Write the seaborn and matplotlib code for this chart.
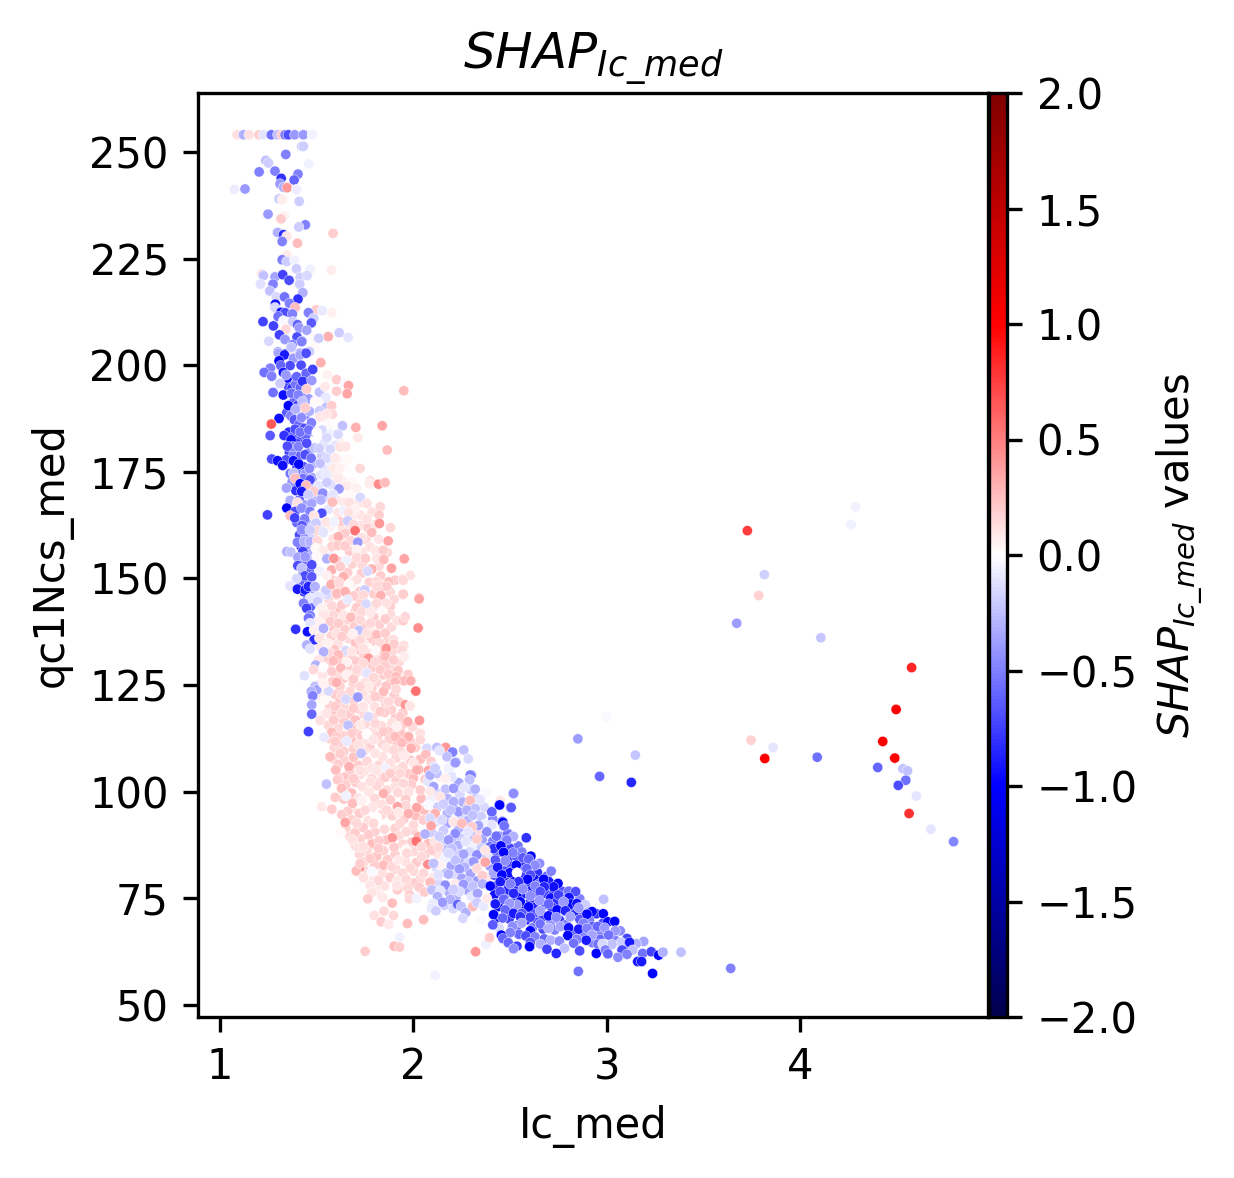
import pandas as pd
import matplotlib
matplotlib.use("Agg")
import matplotlib.pyplot as plt
import seaborn as sns

# Points: (Ic_med, qc1Ncs_med, SHAP value), grouped by region
top_cap = [(1.088,254,.12),(1.121,254,-.3),(1.150,254,.12),(1.202,254,.2),(1.224,254,-.1),(1.265,254,-.55),(1.298,254,-.25),(1.319,254,.2),(1.336,254,-.5),(1.353,254,-.7),(1.386,254,-.4),(1.431,254,-.4),(1.476,254,-.05)]

upper_band = [(1.422,251.3,-.2),(1.431,251.3,-.2),(1.340,249.4,-.5),(1.236,248.0,-.25),(1.250,247.4,-.2),(1.459,247.2,-.05),(1.202,245.3,-.5),(1.284,245.5,-.5),(1.403,244.8,-.5),(1.316,243.8,-.8),(1.383,243.4,-.6),(1.310,242.5,-.4),(1.328,241.7,-.3),(1.347,241.6,.4),(1.074,241.2,-.07),(1.129,241.3,-.4),(1.395,241.2,-.07),(1.305,239,-.2),(1.322,238.8,.07),(1.409,238.4,-.2),(1.248,235.4,-.4),(1.331,235,.05),(1.315,234.3,.2),(1.441,232.9,-.5),(1.407,232.4,-.2),(1.584,230.9,.2),(1.297,231.1,-.3),(1.328,230.6,-.8),(1.345,230.2,.1),(1.321,229,-.5),(1.400,228.6,.25),(1.345,225.8,.08),(1.321,224.7,-.5),(1.345,224.3,-.2),(1.386,224.6,-.05),(1.395,222.6,-.2),(1.465,222.5,-.05),(1.576,222.3,.07),(1.215,221.4,.12),(1.224,221,-.25),(1.284,220.7,-.35),(1.324,221.2,-.75),(1.357,219.9,-.7),(1.414,220.6,-.2),(1.450,221,-.15),(1.209,219,-.12),(1.274,219,-.5),(1.412,219,-.2),(1.257,217.4,-.25),(1.428,217,-.3),(1.291,216,-.15),(1.333,216,-.55),(1.403,215.5,-.8),(1.359,214.5,-.5),(1.286,214.3,-.95),(1.284,213.5,-.15),(1.388,213.5,.25),(1.497,213,.2),(1.528,212.8,-.08),(1.578,212.3,.06),(1.315,212.4,-.95),(1.336,212.3,-.7),(1.374,212,-.5),(1.457,212.3,-.5),(1.300,211.4,-.55),(1.484,211,-.2),(1.472,209.9,-.65),(1.222,210.2,-.75),(1.328,210.4,-.03),(1.376,210.2,-.2),(1.276,209.2,-.75),(1.400,209.5,-.6),(1.410,208.7,-.4),(1.448,208.2,-.35),(1.340,208.4,.15),(1.307,207.1,-.75),(1.398,206.6,-.7),(1.616,207.6,-.2),(1.662,206.5,-.1),(1.559,206.7,.3),(1.486,206.3,.03),(1.510,206.3,-.2),(1.252,205.6,-.15),(1.336,206,-.4),(1.424,205.6,-.6),(1.374,204.8,-.5),(1.365,204.1,-.2),(1.491,204.1,.03),(1.300,203.1,-.4),(1.336,202.6,-.95),(1.379,202.8,.1),(1.414,202.8,-.4),(1.441,202.8,-.8),(1.462,203.2,-.2)]

# dense interiors, overlapped dots estimated
blue_column_fill = [(1.352,195.1,-.7),(1.372,194.6,-.8),(1.392,195.6,-.55),(1.415,194.8,-.6),(1.436,193.2,-.45),(1.458,192.1,-.4),(1.378,191.2,-.6),(1.402,190.6,-.75),(1.345,188.9,-.65),(1.366,188.1,-.5),(1.441,188.4,-.5),(1.462,189.2,-.3),(1.384,187.2,-.65),(1.408,186.1,-.6),(1.436,185.2,-.7),(1.482,184.4,-.35),(1.356,184.3,-.85),(1.377,183.2,-.7),(1.421,182.6,-.75),(1.442,183.4,-.6),(1.392,181.7,-.8),(1.358,179.6,-.75),(1.381,179.1,-.5),(1.418,178.9,-.6),(1.456,179.4,-.5),(1.489,180.6,-.25),(1.341,177.8,-.7),(1.398,175.9,-.85),(1.431,176.2,-.7),(1.483,176.9,-.3),(1.363,174.6,-.55),(1.412,174.3,-.5),(1.441,174.5,-.4),(1.478,173.6,-.35),(1.372,172.6,-.4),(1.428,173.4,-.55),(1.392,170.6,-.8),(1.448,169.9,-.5),(1.478,170.9,-.25),(1.502,168.8,-.3),(1.410,168.4,-.6),(1.442,167.2,-.4),(1.397,163.1,-.6),(1.448,162.9,-.45),(1.478,162.2,-.25),(1.411,160.2,-.7),(1.441,159.6,-.4),(1.482,159.7,-.2),(1.418,157.6,-.85),(1.450,156.8,-.45),(1.472,155.9,-.3),(1.412,153.9,-.6),(1.452,153.8,-.55),(1.430,151.6,-.7),(1.461,151.8,-.6),(1.418,149.2,-.6),(1.462,149.4,-.55),(1.486,146.6,-.35),(1.455,145.6,-.5),(1.468,143.4,-.6)]

pale_fill = [(1.505,192.1,.03),(1.532,188.1,-.1),(1.561,186.2,.02),(1.592,186.9,.0),(1.527,184.8,-.15),(1.573,183.9,-.05),(1.618,181.9,.05),(1.537,181.6,-.1),(1.596,181.2,-.1),(1.525,178.8,-.2),(1.575,177.1,-.05),(1.610,177.6,.06),(1.640,176.2,.03),(1.542,175.5,-.1),(1.595,174.2,.08),(1.635,173.2,.05),(1.680,172.9,.02),(1.572,172.1,-.12),(1.625,170.4,.0),(1.670,169.4,.03),(1.705,171.2,.05),(1.545,169.1,-.15),(1.602,168.4,.1),(1.640,167.9,.08),(1.690,167.4,.08),(1.735,167.8,.1),(1.560,166.2,-.1),(1.610,165.4,.1),(1.640,165.9,-.05),(1.685,164.6,.08),(1.725,164.9,.1),(1.785,165.6,.12),(1.525,162.5,-.1),(1.570,162.1,.05),(1.635,161.7,.12),(1.668,162.1,.1),(1.725,162.4,.12),(1.765,161.9,.2),(1.805,162.7,.1),(1.530,159.4,.0),(1.585,159.3,.12),(1.630,158.7,.1),(1.675,158.9,.15),(1.755,159.1,.15),(1.820,159.2,.1),(1.520,156.8,-.1),(1.560,155.9,-.05),(1.668,156.4,.2),(1.735,156.2,.12),(1.775,157.4,.12),(1.865,156.1,.15),(1.515,153.6,.0),(1.610,154.1,.2),(1.682,153.4,.18),(1.735,153.1,.15),(1.822,152.9,.15),(1.515,151.6,-.05),(1.660,151.4,.2),(1.730,151.2,.2),(1.830,150.6,.2),(1.580,149.6,.2),(1.675,148.9,.22),(1.772,149.1,.18),(1.905,149.6,.2)]

pink_fill = [(1.530,146.6,.05),(1.622,147.4,.2),(1.720,146.9,.2),(1.795,146.4,.2),(1.880,146.8,.15),(1.560,145.2,.15),(1.650,144.4,.22),(1.725,144.6,.18),(1.835,144.8,.25),(1.900,145.1,.15),(1.545,143.1,.08),(1.610,142.6,.25),(1.700,142.4,.18),(1.790,143.2,.12),(1.880,143.4,.2),(1.575,140.7,.2),(1.650,140.2,.18),(1.698,141.2,.12),(1.795,140.9,.2),(1.880,141.6,.15),(1.540,139.6,.05),(1.630,138.6,.12),(1.695,138.8,.2),(1.745,138.9,.2),(1.825,139.2,.18),(1.885,138.6,.15),(1.590,137.9,.22),(1.785,137.4,.08),(1.520,137.1,.1),(1.575,136.4,.18),(1.665,135.9,.15),(1.700,134.9,.22),(1.780,135.9,.2),(1.865,135.3,.18),(1.610,134.6,.12),(1.745,134.5,.05),(1.810,134.6,.2),(1.520,133.9,.08),(1.590,133.4,.22),(1.720,133.2,.2),(1.785,132.6,.15),(1.830,132.8,.22),(1.895,133.1,.15),(1.640,132.2,.18),(1.680,131.3,.25),(1.745,131.9,.18),(1.555,130.9,.18),(1.625,130.6,.22),(1.800,131.9,.15),(1.830,130.7,.25),(1.925,130.4,.15),(1.510,129.6,.02),(1.560,129.4,.2),(1.660,129.3,.2),(1.720,129.6,.1),(1.785,129.1,.2),(1.880,128.9,.15),(1.600,127.9,.15),(1.745,128.2,.18),(1.845,127.4,.2),(1.920,128.4,.22),(1.530,127.3,.1),(1.640,126.6,.2),(1.700,127.6,.12),(1.775,126.6,.15),(1.885,126.2,.2),(1.580,125.8,.2),(1.810,125.6,.15),(1.510,125.2,.08),(1.620,124.7,.18),(1.690,125.3,.18),(1.750,125.6,.12),(1.860,124.8,.22),(1.555,123.9,.1),(1.785,124.1,.18),(1.595,122.8,.2),(1.660,122.4,.12),(1.740,122.8,.12),(1.830,122.2,.2),(1.900,122.6,.2),(1.525,122.1,.08),(1.620,121.2,.22),(1.770,121.6,.1),(1.690,121.3,.2),(1.565,120.3,.18),(1.855,120.8,.15),(1.925,121.1,.2),(1.640,119.9,.15),(1.720,119.4,.2),(1.800,119.9,.12),(1.885,119.2,.18),(1.590,118.6,.22),(1.670,118.2,.2),(1.745,118.1,.15),(1.850,118.6,.2),(1.945,118.5,.2),(1.530,117.9,.05),(1.610,117.3,.18),(1.700,116.8,.22),(1.790,117.4,.15),(1.905,117.1,.22),(1.640,116.4,.2),(1.560,115.6,.15),(1.750,115.9,.15),(1.835,115.4,.15),(1.940,115.6,.2),(1.610,114.9,.15),(1.700,114.6,.22),(1.790,114.2,.12),(1.875,114.3,.2),(1.995,115.2,.15),(1.640,113.1,.18),(1.730,113.1,.2),(1.815,112.9,.18),(1.935,113.6,.22),(1.570,112.4,.2),(1.680,112.1,.22),(1.875,112.3,.18),(1.985,111.6,.2),(1.625,111.2,.2),(1.755,111.6,.12),(1.840,111.1,.15),(1.915,111.2,.2),(1.590,110.4,.15),(1.690,110.1,.18),(1.775,110.4,.18),(1.860,110.2,.1),(2.010,110.4,.2),(1.640,109.4,.2),(1.745,109.6,.12),(1.935,109.4,.15),(1.580,107.9,.2),(1.690,108.1,.22),(1.840,108.2,.12),(1.910,107.9,.15),(2.035,107.6,.25),(1.640,107.4,.18),(1.760,107.1,.15),(1.985,107.4,.2),(1.610,106.4,.2),(1.715,106.2,.2),(1.820,106.2,.15),(1.945,105.9,.15),(1.670,104.7,.2),(1.745,104.8,.12),(1.830,104.6,.15),(1.900,105.2,.12),(1.640,103.4,.22),(1.785,103.1,.15),(1.975,104.2,.2),(2.000,103.2,.25),(1.700,102.2,.2),(1.825,102.2,.15),(1.910,102.6,.18),(2.060,102.9,.2)]

low_pink_fill = [(1.650,101.6,.2),(1.735,101.2,.12),(1.810,101.4,.15),(1.905,101.1,.12),(1.990,101.7,.2),(1.680,99.7,.25),(1.770,99.9,.1),(1.920,99.8,.15),(1.975,100,.12),(1.640,98.3,.22),(1.715,98.5,.12),(1.800,98.4,.15),(1.880,98.1,.2),(1.960,98.2,.2),(2.040,98.4,.25),(1.680,96.1,.12),(1.790,96.4,.1),(1.835,97.1,.12),(1.960,96.8,.15),(2.055,95.7,.25),(1.660,95.4,.2),(1.720,94.9,.2),(1.835,94.6,.15),(1.890,94.4,.18),(2.010,94.4,.25),(1.680,93.4,.18),(1.765,93.2,.12),(1.950,93.6,.2),(2.050,93.4,.2),(1.650,91.6,.18),(1.740,91.6,.2),(1.850,91.2,.15),(1.905,91.4,.18),(1.995,91.1,.2),(1.670,89.6,.15),(1.800,90.6,.18),(1.925,89.7,.15),(2.025,89.5,.3),(1.725,88.9,.18),(1.860,88.7,.22),(1.990,88.2,.2),(1.700,87.3,.15),(1.785,87.8,.25),(1.945,87.7,.15),(2.075,87.8,.25),(1.760,86.1,.15),(1.845,86.2,.18),(2.000,86,.15),(1.720,85.4,.15),(1.905,85.2,.2),(2.060,85.4,.2),(1.810,84.9,.22),(1.745,83.6,.15),(1.865,84.1,.2),(1.960,83.6,.12),(2.015,83.4,.2),(1.800,82.7,.2),(1.910,81.8,.15),(2.000,81.4,.15),(1.760,81.3,.15),(1.840,80.9,.12),(1.880,79.9,.2),(1.945,80.9,.15),(2.035,79.6,.15),(1.795,79.4,.1),(1.915,79.1,.1),(2.000,78.6,.2),(1.850,77.9,.12),(1.945,77.7,.1),(2.030,77.6,.2),(1.810,76.9,.08)]

lavender_fill = [(2.075,102.4,-.1),(2.140,103.4,.05),(2.235,102.1,-.35),(2.115,99.9,-.15),(2.165,100.6,-.25),(2.240,99.4,-.15),(2.295,100.6,-.2),(2.090,98.4,-.05),(2.175,98.4,-.3),(2.255,97.6,-.3),(2.320,98.6,-.2),(2.125,96.4,-.2),(2.205,96.2,-.4),(2.285,96.8,.2),(2.365,96.4,-.15),(2.175,94.9,-.3),(2.245,94.6,-.15),(2.350,94.2,-.2),(2.410,93.6,-.45),(2.115,92.9,-.1),(2.175,92.6,-.35),(2.280,93.2,-.3),(2.370,92.4,-.05),(2.235,91.4,-.3),(2.330,90.4,.15),(2.155,90.9,-.2),(2.095,90.4,-.2),(2.205,89.4,-.25),(2.250,89.1,-.2),(2.300,89.6,-.25),(2.355,88.8,-.35),(2.410,88.4,-.5),(2.110,88.4,.1),(2.150,87.8,-.15),(2.230,87.4,-.3),(2.300,87.2,-.05),(2.395,87.1,-.55),(2.170,86.4,-.25),(2.290,85.9,-.15),(2.350,86.8,-.2),(2.125,85.4,.1),(2.225,85.4,-.2),(2.375,84.9,-.25),(2.160,84.2,-.05),(2.255,84,-.3),(2.285,83.4,-.15),(2.340,83.6,.1),(2.120,82.1,-.15),(2.195,82.6,-.35),(2.265,82.3,-.3),(2.395,82.6,-.4),(2.155,81.1,-.25),(2.215,80.6,-.15),(2.295,80.8,-.35),(2.385,79.9,.1),(2.105,79.9,.1),(2.235,78.9,-.3),(2.330,79.1,-.4),(2.130,78.6,-.15),(2.280,76.9,-.35),(2.180,76.6,-.3),(2.160,73.4,-.2),(2.220,75.3,-.3),(2.300,75.4,-.1),(2.205,72.6,-.15)]

blue_fill = [(2.490,90.2,-.6),(2.445,89.6,-.4),(2.540,87.3,-.55),(2.495,86.9,-.75),(2.430,85.6,-.6),(2.560,85.9,-.5),(2.490,84.5,-.95),(2.530,84.9,-.65),(2.440,83.1,-1.0),(2.570,83.3,-.85),(2.610,83,-.7),(2.490,82.9,-.75),(2.510,81.4,-.85),(2.555,81.4,-.75),(2.640,81.1,-.8),(2.470,81.4,-.7),(2.420,80.4,-.7),(2.575,80.2,-.8),(2.625,79.5,-.95),(2.690,80.2,-.6),(2.520,79.4,-1.0),(2.475,78.9,-.85),(2.560,78.4,-.7),(2.650,78.4,-.6),(2.600,78,-.8),(2.700,78.9,-.9),(2.430,77.9,-.9),(2.540,77.1,-.85),(2.610,76.8,-1.0),(2.680,76.2,-.75),(2.725,76.2,-.8),(2.485,76.9,-.85),(2.770,76.6,-.7),(2.580,76.1,-.9),(2.420,75.9,-.95),(2.535,75.4,-1.0),(2.635,75.4,-.85),(2.710,75.1,-.95),(2.470,74.9,-.8),(2.790,74.9,-.65),(2.860,74.9,-.5),(2.605,74.4,-.75),(2.515,73.9,-.85),(2.680,73.6,-.85),(2.740,74.1,-.8),(2.440,73.1,-1.0),(2.575,72.6,-.95),(2.630,72.9,-.85),(2.715,72.9,-.85),(2.830,72.6,-.7),(2.490,72.4,-.8),(2.770,72.6,-.95),(2.875,71.6,-.6),(2.545,71.6,-.9),(2.620,71.4,-.7),(2.670,70.7,-.75),(2.830,71.1,-.85),(2.945,71.4,-.8),(2.430,70.4,-.95),(2.495,70.2,-.75),(2.580,69.9,-.95),(2.755,69.9,-.8),(2.860,70.1,-.65),(2.910,69.9,-.5),(2.640,69.4,-.7),(2.710,69.5,-.4),(2.980,69.2,-.7),(2.535,68.6,-.65),(2.790,68.9,-.5),(2.925,68.4,-.65),(2.615,68.1,-.5),(2.670,67.8,-.7),(2.730,67.6,-.5),(2.840,66.9,-.6),(2.885,66.7,-.5),(2.960,66.9,-.5),(3.030,66.6,-.55),(2.545,66.6,-.6),(2.600,65.8,-.5),(2.480,65.3,-.55),(2.965,65.4,-.6),(3.045,65.1,-.5),(2.925,64.6,-.5),(3.090,63.8,-.6)]

mid_band = [(1.303,202.8,-.35),(1.333,202.4,-.9),(1.369,204.2,-.25),(1.422,205.5,-.5),(1.305,201,-1.0),(1.379,201.6,-.4),(1.414,202.4,-.35),(1.445,202.8,-.7),(1.362,199.9,-.7),(1.419,200,-.7),(1.314,199.9,-.6),(1.260,199.3,-.5),(1.228,198.3,-.55),(1.267,197.4,-.5),(1.327,198.3,-.9),(1.348,197,-.95),(1.341,197.7,-.4),(1.396,197.3,-.6),(1.445,198.1,-.6),(1.479,199,-.75),(1.427,196.2,-.8),(1.474,196.4,-.4),(1.521,200.6,.3),(1.555,197.7,.05),(1.603,196.6,.2),(1.646,195.8,-.03),(1.664,195.2,.35),(1.310,195.7,-.2),(1.274,193.6,-.55),(1.327,193,-.95),(1.369,193.4,-.55),(1.405,193,-.5),(1.448,194.4,.2),(1.514,193.7,-.25),(1.543,195,.08),(1.602,193.9,.2),(1.657,193.3,.35),(1.950,194,.25),(1.353,190.5,-1.0),(1.391,189.7,-.3),(1.426,191.5,-.25),(1.440,190,.2),(1.491,191.5,.03),(1.548,192.4,-.08),(1.548,190.1,-.25),(1.577,190.5,.2),(1.581,188.5,.15),(1.514,189.3,-.2),(1.305,187.5,-.95),(1.265,186.2,.65),(1.420,187.7,-.45),(1.472,186.5,-.5),(1.517,187.9,.1),(1.552,188.6,.1),(1.633,185.8,-.25),(1.702,185.4,.3),(1.838,185.8,.35),(1.259,183.5,-.65),(1.331,183.5,-.8),(1.388,185,-.7),(1.414,184.3,-.55),(1.459,184.8,-.55),(1.500,184.2,.0),(1.552,183,-.15),(1.610,183.8,-.15),(1.712,183,.08),(1.367,182.5,-.95),(1.374,180.9,-.5),(1.405,180.9,-.5),(1.448,181.7,-.7),(1.512,180.5,-.2),(1.569,180.3,-.15),(1.621,180.8,.12),(1.650,180.9,.1),(1.864,180.1,.25),(1.348,181,-.7),(1.440,179,-.7),(1.471,178.2,-.55),(1.267,178,-.7),(1.297,177.6,-.95),(1.324,176.5,-.95),(1.379,177.6,-.95),(1.407,176.8,-1.0),(1.462,175.8,-.45),(1.552,178.2,-.15),(1.595,178.3,.08),(1.659,178,.03),(1.517,177,-.25),(1.724,175.8,.15),(1.583,175.8,.08),(1.621,175.8,.05),(1.379,174.7,-.25),(1.388,173.5,.25),(1.465,173.1,-.7),(1.521,174.3,-.1),(1.552,174.3,-.08),(1.664,174.7,.0),(1.776,172.9,.12),(1.771,172.2,.07),(1.819,172.1,.45),(1.853,172.5,.25),(1.343,171.2,-.35),(1.414,172.2,-1.0),(1.445,171.8,.25),(1.509,171.7,-.1),(1.552,172.5,-.2),(1.612,173.5,.08),(1.655,171.7,.08),(1.422,170.4,-.9),(1.486,170.4,.2),(1.531,170,-.45),(1.615,171,-.4),(1.583,169.7,-.1),(1.457,169.6,-.2),(1.724,169,-.15),(1.759,167.6,.12),(1.362,168.3,-.3),(1.521,168.4,-.3),(1.474,167.6,-.35),(1.581,167.9,.25),(1.667,167.8,.12),(1.828,166.8,.15),(1.400,167.8,.12),(1.245,164.9,-.75),(1.345,166.5,-1.0),(1.388,165.7,-.7),(1.422,166.5,-.45),(1.465,165.7,-.5),(1.526,165.3,-.7),(1.698,166.2,.05),(1.822,164.9,.2),(1.362,164.7,.25),(1.386,164.2,-.75),(1.438,164,-.5),(1.486,164.7,.1),(1.548,163.3,.1),(1.664,165.5,.12),(1.621,163.3,.2),(1.660,163.5,-.2),(1.690,162.6,.15),(1.759,164,.12),(1.824,162.9,.4),(1.881,161.9,.15),(1.424,162.4,-.65),(1.496,163,-.2),(1.590,163.3,-.05),(1.698,161.2,.55),(1.500,161.2,.15),(1.534,160.8,-.1),(1.646,160.6,.2),(1.612,159.8,.3),(1.784,160.8,.25),(1.422,161.4,-.45),(1.465,161.4,-.2),(1.733,159.6,.12),(1.400,158.5,-.5),(1.436,158.7,-.3),(1.465,158.6,-.3),(1.503,158.8,.15),(1.869,158.8,.35),(1.712,158.5,-.4),(1.578,157.5,.18),(1.607,157.7,.2),(1.646,157.6,.2),(1.345,156.3,-.3),(1.366,156.2,-.25),(1.428,156.3,-.75),(1.495,157.1,.03),(1.534,156.5,.08),(1.707,156.7,.05),(1.805,156.5,.1),(1.843,156.6,.2),(1.402,155,-.35),(1.440,155.1,-.4),(1.500,155.3,.03),(1.552,154.6,-.3),(1.588,154.7,.4),(1.652,154.2,-.05),(1.707,154.9,.15),(1.752,154.7,.2),(1.810,154.8,.1),(1.846,154.4,.25),(1.952,154.6,.35),(1.402,153,-.7),(1.474,153.2,-.7),(1.422,152.4,-.25),(1.577,152,.3),(1.621,152.8,.2),(1.784,152.2,.3),(1.762,151.7,-.15),(1.886,152.4,.35),(1.438,150.6,-.7),(1.474,150.4,-.65),(1.396,150,-.15),(1.552,150.7,.05),(1.612,149.4,.15),(1.638,150.4,.3),(1.707,149.7,.12),(1.810,149.3,.15),(1.872,149.2,.25),(1.945,149.8,.2),(1.983,150.7,.12),(1.360,148.3,-.12),(1.400,147.6,-.75),(1.452,147.9,-.8),(1.489,148.1,-.25),(1.577,147.2,.15),(1.645,146.9,.4),(1.748,147.3,-.2),(1.845,148.1,.25),(1.824,145.8,.3),(1.945,146.3,.2),(2.029,145.4,.3),(1.434,146.9,-.8),(1.603,146.2,.25),(1.690,145.9,.3),(1.503,145.8,-.15),(1.552,146.2,-.15)]

pink_band = [(1.362,148.2,-.1),(1.400,147.5,-.9),(1.440,147.3,-.9),(1.457,148.1,-.85),(1.491,148.1,-.3),(1.547,147.2,-.2),(1.574,148.6,.3),(1.616,149,.15),(1.667,148.7,.03),(1.748,147.3,-.2),(1.810,148.1,.15),(1.862,148.2,.2),(1.947,149.6,.15),(1.947,146.3,.2),(2.029,145.2,.35),(1.831,146,.3),(1.741,146.1,.15),(1.690,145.9,.2),(1.604,146.5,.25),(1.647,146.9,.3),(1.512,145.7,-.1),(1.466,145.4,-.1),(1.504,144.6,-.2),(1.431,144.2,-.5),(1.448,143,-.75),(1.578,143.6,.15),(1.629,143.8,.2),(1.659,145,-.08),(1.707,143.2,.2),(1.755,144,-.15),(1.810,144.2,.15),(1.859,144.2,.12),(1.526,143,.05),(1.586,141.4,.15),(1.638,141.4,.1),(1.676,140.9,.25),(1.733,142.2,.15),(1.776,142,.08),(1.840,142.2,.03),(1.466,141.3,-.5),(1.457,140.7,-.55),(1.535,141.4,.1),(1.509,139.9,.05),(1.466,139.5,-.1),(1.569,139.9,.2),(1.612,139.5,.2),(1.724,140.3,.15),(1.776,139.5,.15),(1.854,140.5,.2),(1.914,140.1,.12),(1.947,140.1,.2),(1.957,141,.15),(1.391,138.1,-.8),(2.024,138.4,.45),(1.452,137.5,-.95),(1.486,137.9,.05),(1.535,138.3,-.3),(1.717,137.8,-.25),(1.600,137.2,.12),(1.647,137.9,.2),(1.759,137.2,.12),(1.810,136.8,.25),(1.854,137.2,.2),(1.686,137,.05),(1.486,135.6,-.8),(1.448,134.4,-.3),(1.466,133.5,-.12),(1.514,136,.1),(1.557,134.8,.05),(1.629,136.4,.2),(1.724,135.6,.15),(1.828,134.8,.15),(1.897,135.7,.12),(1.900,134.6,.2),(1.950,134.3,.12),(1.941,133.2,.15),(1.802,133.1,.02),(1.859,133.6,.4),(1.650,133.1,-.15),(1.569,132.5,.15),(1.612,132.1,.25),(1.681,132.9,.1),(1.741,133.6,.12),(1.535,132.8,-.3),(1.952,131.7,.07),(1.855,131.7,.25),(1.897,130.9,.2),(1.767,131.3,.4),(1.707,130.5,.2),(1.655,130.5,.05),(1.586,130.7,.25),(1.509,130.9,.1),(1.495,129.7,-.3),(1.535,129.2,.0),(1.802,130.5,.15),(1.854,129.5,.2),(1.741,130.1,.15),(1.483,128.6,.15),(1.578,128.2,.2),(1.624,129,.25),(1.707,128.6,.15),(1.759,127.9,-.1),(1.828,128.6,.2),(1.871,127.6,.2),(1.436,127.2,-.12),(1.655,127.4,.05),(1.690,126.4,.2),(1.793,126.8,.15),(1.910,127,.25),(1.972,127.5,.2),(1.952,126,.25),(1.986,126,.3),(1.491,124.7,-.25),(1.500,123.9,-.35),(1.471,123.5,-.3),(1.479,122.5,-.5),(1.560,123.6,-.15),(1.602,125.6,.3),(1.535,125.4,.05),(1.905,125.8,.25),(2.012,123.6,.55),(1.845,123.5,.25),(1.910,124,.15),(1.767,124.7,.08),(1.724,124.7,.15),(1.672,123.5,.15),(1.629,122.7,.15),(1.712,122.2,-.4),(1.650,121.7,-.15),(1.540,121.5,.02),(1.802,122.3,.2),(1.871,121.1,.15),(1.595,120,.2),(1.474,120.4,-.35),(1.474,118.2,-.6),(1.957,120.4,.4),(1.983,120.1,.1),(1.931,117.6,.2),(1.741,120,.1),(1.690,119.6,.2),(1.552,118.4,.1),(1.629,118.4,.15),(1.766,117.6,-.15),(1.828,118.8,.2),(1.971,116.4,.3),(2.031,116.7,.4),(1.517,116.7,.12),(1.662,115.6,-.25),(1.586,116.8,.2),(1.724,115.6,.08),(1.802,116,.15),(1.888,116.2,.12),(1.914,115.3,.05),(1.457,114.1,-.75),(1.577,113.9,.25),(1.603,112.9,.2),(1.681,113.7,.2),(1.759,113.5,.0),(1.845,114.1,.2),(1.905,112.9,.25),(1.974,112.9,.3),(2.035,113.7,.12),(1.538,112.8,-.08),(1.595,111.8,.2),(1.655,111.8,-.08),(1.716,111,.12),(1.793,112.2,.1),(1.940,111.5,.25),(2.035,112.2,.15),(2.069,110.2,-.15),(2.121,110.4,-.25),(2.167,110.4,.4),(2.202,109.3,-.5),(2.260,109.8,-.25),(1.569,108.2,.25),(1.621,109,.2),(1.729,109,-.25),(1.802,109,.1),(1.897,109.8,.15),(1.952,108.5,.08),(1.988,110.2,.3),(2.064,108.7,.25),(2.135,109.6,-.1),(2.173,108.2,-.25),(2.283,107.7,-.15),(2.219,106.9,-.45),(2.091,107.1,.2),(2.190,105.9,-.08),(1.600,105.2,.25),(1.667,105.9,.3),(1.785,105.5,.1),(1.879,106.7,.12),(2.000,106.7,.1),(2.026,105.2,.35),(2.104,105.9,-.12),(2.078,105,.35),(2.086,104,-.3),(2.121,104.3,-.25),(2.298,103.9,-.75),(2.290,103,-.3),(2.198,103.6,-.08),(1.854,105.5,-.05),(1.931,104.4,.15),(1.724,104,.12),(1.854,103.4,.2),(1.612,103.2,.2)]

lower_band = [(1.550,101.8,-.25),(1.526,96.5,.08),(1.578,95.9,.2),(1.595,98.7,.2),(1.607,102.8,.2),(1.598,105.1,.25),(1.628,100.8,.25),(1.652,99,-.05),(1.685,97.3,.25),(1.629,94.7,.2),(1.647,92.8,.35),(1.624,90.4,.02),(1.698,90.4,.2),(1.685,88.7,.12),(1.716,87,.12),(1.721,82.3,.5),(1.704,81.4,.25),(1.724,83.2,.2),(1.742,79.8,.12),(1.785,81.3,-.03),(1.819,79.2,.15),(1.776,78.1,.1),(1.785,76.4,.1),(1.764,74.9,.2),(1.836,75.4,.12),(1.841,75.2,.08),(1.890,73.9,.25),(1.917,77,.2),(1.914,78.1,.1),(1.962,79.5,.15),(1.971,77.4,.15),(1.979,75.8,.2),(1.979,74.9,.15),(2.017,75,-.05),(2.057,76.5,.2),(1.847,72,.15),(1.797,71,.12),(1.897,71,.15),(1.833,69.5,.2),(1.872,68.9,.08),(1.969,69.1,.25),(2.052,70,.25),(1.928,65.9,-.05),(1.900,63.8,.25),(1.928,63.6,.2),(1.750,62.6,.2),(2.112,57,-.05),(2.321,62.5,.4),(2.393,65.6,.15),(2.374,64.2,-.05),(1.724,105,.12),(1.810,105,.1),(1.879,104.3,.2),(2.017,105.1,.3),(2.086,103.9,-.3),(2.112,105.5,-.2),(2.181,105.5,-.05),(2.216,106.8,-.4),(2.293,103.9,-.5),(2.290,102.8,-.25),(2.104,101.2,-.35),(2.198,103.5,-.1),(2.164,103.1,.05),(1.690,103.1,.2),(1.776,102.4,.12),(1.862,100.4,.15),(1.845,99.6,.3),(1.948,102,.15),(2.035,100.4,.2),(2.086,100,.08),(2.207,100.8,-.4),(2.262,101,-.1),(2.379,100,-.03),(2.517,99.6,-.6),(2.319,100.6,-.3),(2.138,98.8,.1),(2.207,97.7,-.3),(2.293,98,.25),(2.345,98.2,-.1),(2.448,97.9,.1),(2.445,96.9,-1.0),(2.503,96.3,-.75),(2.405,95.3,-.7),(2.319,96.1,-.25),(2.233,95.3,-.4),(2.155,97.1,-.2),(2.076,96.9,-.03),(2.017,96.3,.35),(1.917,96.5,.35),(1.810,94,.0),(1.733,97.9,.05),(1.750,95.7,.15),(1.862,95.7,.15),(1.922,95.2,.08),(1.974,94.9,.3),(2.112,94.9,.3),(2.190,95.7,-.25),(2.276,95.7,-.3),(2.307,94.5,-.25),(2.086,93.8,-.15),(2.147,93.4,-.15),(2.207,93,.1),(2.250,92.6,.25),(2.336,92.1,-.35),(2.460,93,-1.0),(2.469,92,-.55),(2.405,92.2,-.1),(2.091,92,.35),(2.302,91.8,.2),(1.707,92.6,.15),(1.793,92.6,.15),(1.931,92.6,.15),(2.000,92.2,.15),(2.060,90.1,-.3),(2.133,89.6,-.2),(2.216,90.2,-.45),(2.181,88.7,-.4),(2.281,90.6,-.1),(2.379,90.6,-.45),(2.428,89.6,-.55),(2.486,90.1,-.55),(2.514,89.1,-.05),(1.890,89.2,.4),(2.014,88.4,.55),(1.822,88.5,.2),(1.767,89.9,.2),(1.962,90.6,.15),(2.095,86.3,.2),(2.129,87,.15),(2.198,86.7,-.25),(2.271,88.3,-.1),(2.328,88.9,.2),(2.453,87.3,-1.0),(2.414,86.7,-.8),(2.466,85.8,-.95),(1.741,87.1,.12),(1.819,86.7,.2),(1.900,87,.2),(1.962,86.5,.02),(2.043,87.1,.15),(2.259,85.4,-.35),(2.328,85.2,-.45),(2.371,86.3,.1),(2.397,84.2,-.1),(2.216,84,-.25),(2.181,85.6,-.15),(2.310,83.6,-.4),(2.138,82.8,.05),(2.074,83,.45),(2.043,84.8,.15),(1.966,85.6,.15),(1.845,82.8,.25),(1.776,84.4,.2),(1.888,82.4,.15),(1.922,84,.08),(1.983,82.1,.15),(2.052,80.9,.15),(2.104,83.2,-.25),(2.238,81.9,-.4),(2.328,82,.15),(2.371,83.5,.35),(2.414,81,-.35),(2.457,80.7,-1.0),(2.357,80.3,.2),(2.129,80.5,-.12),(2.181,80.7,-.3),(2.250,79.7,-.35),(2.284,78.9,-.25),(2.164,78.1,-.45),(2.086,78.8,.25),(2.216,78.4,.08),(2.259,78.3,-.4),(2.307,77.9,-.25),(2.357,78.4,-.3),(2.397,77.9,-1.0),(2.095,77,-.25),(2.138,76.8,-.1),(2.238,76.6,-.15),(2.331,76.2,-.35),(2.207,77.1,-.2),(2.124,75.4,-.3),(2.190,74.8,-.3),(2.150,74.1,-.4),(2.228,73.6,-.6),(2.247,73.1,-.25),(2.100,73.8,-.08),(2.092,72.7,-.08),(2.116,72.1,-.2),(2.271,71.7,-.3),(2.255,70.3,-.15),(2.307,73.1,.25),(2.328,74,-.2),(2.362,73.2,-.08),(2.379,75,.08),(2.423,73.8,-.35),(2.350,70,-.03)]

blue_tail = [(2.379,99.9,-.03),(2.517,99.6,-.45),(2.445,96.9,-1.0),(2.505,96.3,-.65),(2.405,95.3,-.6),(2.462,92.8,-1.0),(2.469,92,-.55),(2.583,89.2,-.8),(2.517,89.5,-.3),(2.483,88.7,-.5),(2.452,87.3,-1.0),(2.514,85.7,-.5),(2.466,85.8,-1.0),(2.607,84.9,-1.0),(2.566,84.5,-.65),(2.595,84.2,-.6),(2.652,83.2,-.45),(2.629,82.8,-.45),(2.474,83.8,-.45),(2.423,84,-.65),(2.531,82.8,-1.0),(2.712,81.4,-.5),(2.435,82.3,-.9),(2.497,81,-.95),(2.586,82,-.6),(2.604,80.5,-.7),(2.535,81,.0),(2.457,80.5,-1.0),(2.673,79.5,-1.0),(2.590,79.5,-1.0),(2.747,78.5,-1.0),(2.543,78.9,-.8),(2.500,78.4,-.5),(2.448,78.9,-.9),(2.629,77.9,-.5),(2.724,77.7,-.95),(2.676,77.7,-.85),(2.802,76.7,-.55),(2.838,76.6,-.7),(2.566,77.2,-.45),(2.448,76.6,-.7),(2.517,76.2,-.85),(2.655,76.6,-.7),(2.750,75.8,-.75),(2.604,75.6,-.45),(2.804,75.2,-.95),(2.983,74.8,-.25),(2.466,74.8,-.6),(2.552,74.2,-1.0),(2.652,74.5,-.4),(2.698,73.7,-.6),(2.595,73,-1.0),(2.814,73.7,-1.0),(2.845,73.8,-.95),(2.888,73.5,-.2),(2.776,74.2,-.4),(2.535,73.5,-.4),(2.497,73.8,-.4),(2.855,72.8,-.4),(2.923,71.9,-1.0),(2.897,71.3,-1.0),(2.981,71.4,-1.0),(2.423,73.7,-.9),(2.474,72.3,-.6),(2.414,71.2,-1.0),(2.517,71.5,-.9),(2.560,71.5,-.65),(2.742,72.3,-1.0),(2.785,72.1,-.85),(2.655,72.1,-.35),(2.698,70.9,-.95),(2.604,70.6,-.75),(2.461,70.4,-.6),(2.552,70.7,-.8),(2.738,70.6,-.45),(2.810,70.7,-.35),(3.005,69.5,-1.0),(3.040,69.6,-1.0),(2.879,69.2,-.5),(2.952,68.4,-.6),(2.988,68.1,-.4),(2.560,69.2,-.35),(2.655,69,-.55),(2.512,68.4,-.45),(2.443,68.1,-.15),(2.410,68.8,-.65),(2.604,67.4,-1.0),(2.698,68,-.3),(2.759,68.4,-.35),(2.802,68.1,-.95),(2.854,67.8,-.9),(2.897,68,-.5),(3.069,67.4,-.45),(3.043,67.4,-.4),(2.500,67,-.5),(2.581,66.2,-.7),(2.454,66.4,-1.0),(2.629,66,-.5),(2.798,66.3,-1.0),(2.462,65.6,-.6),(2.393,65.8,.2),(3.009,66.4,-.55),(2.923,66.4,-.35),(3.104,65.6,-.75),(2.676,65.5,-.6),(2.710,65.2,-.3),(2.754,65,-.45),(2.845,65.4,-.5),(2.893,65.2,-.9),(3.074,64.7,-.2),(3.190,64.9,-.35),(3.152,64.4,-.3),(3.117,64.7,-.9),(2.490,64.6,-.6),(2.535,63.8,-.75),(2.604,64.7,-.65),(2.655,64.3,-.3),(2.828,64.5,-.55),(2.954,64.3,-.55),(3.026,64.2,-.25),(2.978,64.3,-.15),(2.517,63.2,-.45),(2.600,63.7,-1.0),(2.690,63.1,-.75),(2.781,63.3,-.25),(2.859,62.7,-.7),(2.945,62.1,-1.0),(2.738,62.1,-.85),(2.992,62.9,-.5),(3.078,62.9,-.7),(3.133,62.9,-.25),(3.005,62,-.6),(3.057,61.2,-.45),(3.104,61.9,-.5),(3.185,62.1,-.55),(3.229,62.5,-.75),(3.267,61.7,-1.0),(3.290,62.4,-.3),(3.383,62.4,-.25),(3.159,60.2,-.9),(3.179,60.2,-.9),(3.236,57.4,-1.0),(2.852,57.9,-.55),(3.640,58.6,-.5)]

outliers = [(4.285,166.8,-.05),(4.262,162.6,-.06),(3.726,161.2,.75),(3.814,150.9,-.18),(3.785,146,.18),(3.671,139.5,-.38),(4.106,136.1,-.22),(4.575,129.1,.85),(4.495,119.3,1.0),(2.997,117.5,-.02),(2.850,112.4,-.38),(3.147,108.6,-.22),(3.745,112.1,.18),(3.859,110.4,-.1),(3.816,107.8,1.0),(4.087,108.1,-.55),(4.426,111.8,1.0),(4.488,107.9,1.0),(4.400,105.7,-.6),(4.530,105.4,-.22),(4.554,104.9,-.25),(4.545,102.7,-.55),(4.506,101.5,-.7),(2.962,103.6,-.6),(3.126,102.2,-.85),(4.600,99,-.1),(4.562,94.9,.8),(4.675,91.2,-.1),(4.792,88.3,-.48)]

x_ticks = [1, 2, 3, 4]
y_ticks = [50, 75, 100, 125, 150, 175, 200, 225, 250]

all_points = (blue_column_fill + pale_fill + pink_fill + low_pink_fill + lavender_fill + blue_fill
              + top_cap + upper_band + mid_band + pink_band + lower_band + blue_tail + outliers)
df = pd.DataFrame(all_points, columns=["Ic_med", "qc1Ncs_med", "shap"])

W, H = 1235, 1178
fig = plt.figure(figsize=(W / 300, H / 300), dpi=300)
ax = fig.add_axes([198 / W, 1 - 1017 / H, 790 / W, 924 / H])
cax = fig.add_axes([989.5 / W, 1 - 1017 / H, 18 / W, 924 / H])

sns.scatterplot(data=df, x="Ic_med", y="qc1Ncs_med", c=df["shap"], cmap="seismic",
                vmin=-2, vmax=2, s=6, linewidth=0.1, ax=ax)

ax.set_xlim(0.886, 4.97)
ax.set_ylim(47.2, 263.8)
ax.set_xticks(x_ticks)
ax.set_yticks(y_ticks)
ax.set_title(r"$SHAP_{Ic\_med}$")
ax.set_xlabel("Ic_med")
ax.set_ylabel("qc1Ncs_med")

cbar = fig.colorbar(ax.collections[0], cax=cax)
cbar.set_label(r"$SHAP_{Ic\_med}$ values")

fig.savefig("out.png", dpi=300)
